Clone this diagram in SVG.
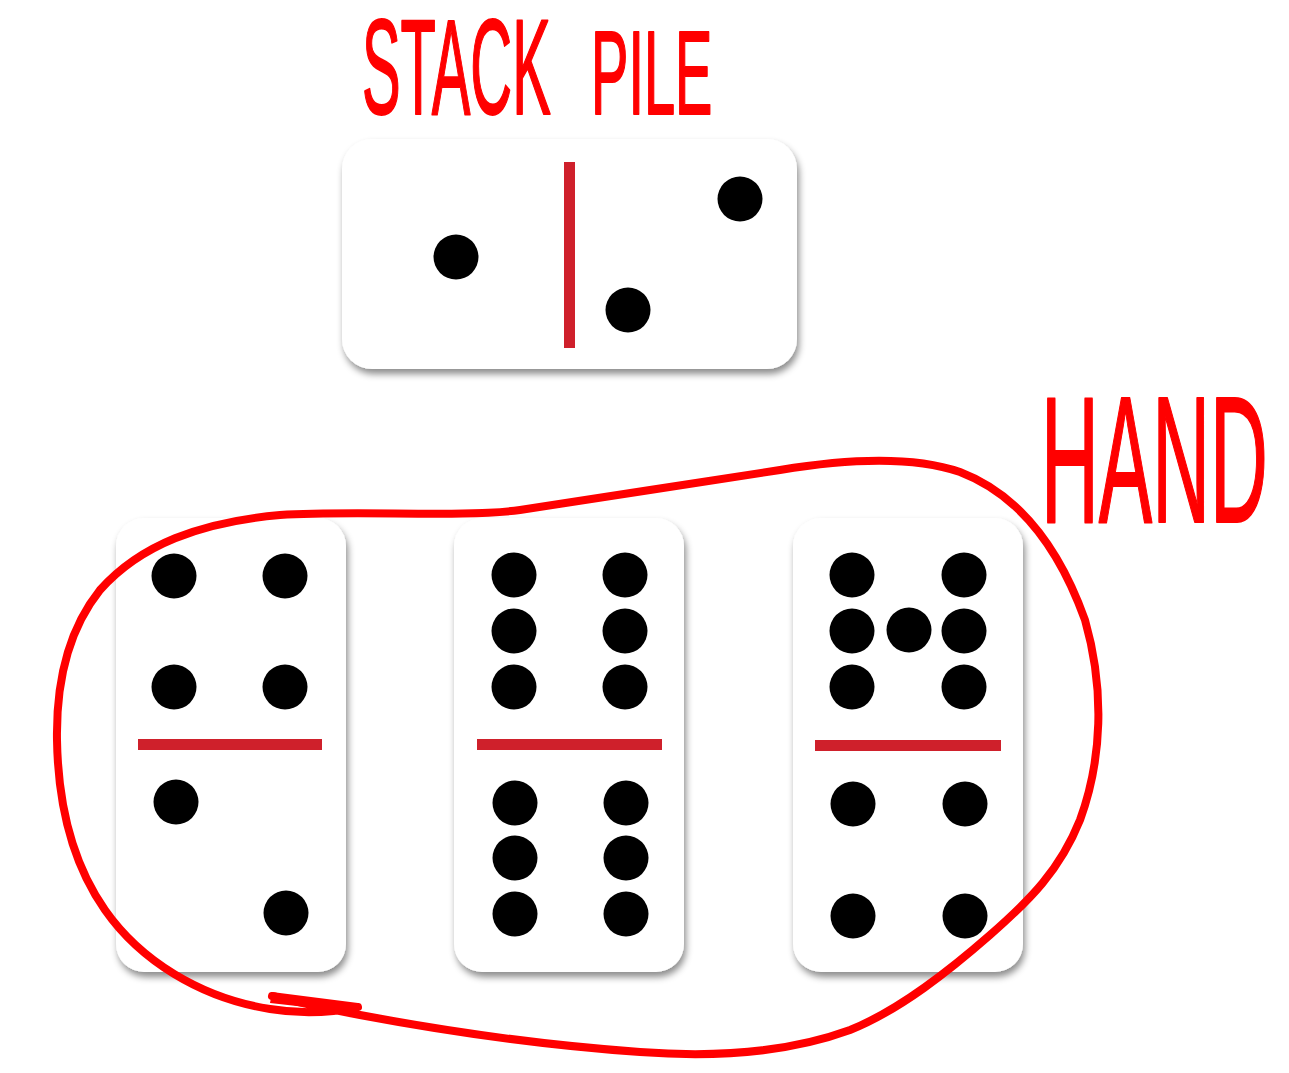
<svg xmlns="http://www.w3.org/2000/svg" width="1289" height="1073" viewBox="0 0 1289 1073">
<defs>
<filter id="sh" x="-10%" y="-10%" width="125%" height="125%">
<feDropShadow dx="2" dy="5" stdDeviation="3.5" flood-color="#000" flood-opacity="0.45"/>
</filter>
</defs>
<style>
.tile{fill:#fff;filter:url(#sh)}
.pip{fill:#000}
.bar{fill:#cf202b}
.lbl{fill:#ff0000;stroke:#ff0000;stroke-width:2;stroke-linejoin:round;font-family:"Liberation Sans",Arial,sans-serif}
.loop{fill:none;stroke:#ff0000;stroke-width:8;stroke-linecap:round;stroke-linejoin:round}
</style>
<rect width="1289" height="1073" fill="#fff"/>
<g id="label-stack">
<text class="lbl" font-size="135" transform="translate(362,114) scale(0.429,1)">STACK</text>
<text class="lbl" font-size="118" transform="translate(591,114) scale(0.475,1)">PILE</text>
</g>
<g id="stack-tile">
<rect class="tile" x="342" y="139" width="455" height="230" rx="30"/>
<rect class="bar" x="564" y="162" width="11" height="186"/>
<circle class="pip" cx="456" cy="257" r="22.5"/>
<circle class="pip" cx="628" cy="310" r="22.5"/>
<circle class="pip" cx="740" cy="199" r="22.5"/>
</g>
<g id="hand-tile-1">
<rect class="tile" x="116" y="518" width="230" height="454" rx="28"/>
<rect class="bar" x="138" y="739" width="184" height="11"/>
<circle class="pip" cx="174" cy="576" r="22.5"/>
<circle class="pip" cx="285" cy="576" r="22.5"/>
<circle class="pip" cx="174" cy="687" r="22.5"/>
<circle class="pip" cx="285" cy="687" r="22.5"/>
<circle class="pip" cx="176" cy="802" r="22.5"/>
<circle class="pip" cx="286" cy="913" r="22.5"/>
</g>
<g id="hand-tile-2">
<rect class="tile" x="454" y="518" width="230" height="454" rx="28"/>
<rect class="bar" x="477" y="739" width="185" height="11"/>
<circle class="pip" cx="514" cy="575" r="22.5"/>
<circle class="pip" cx="625" cy="575" r="22.5"/>
<circle class="pip" cx="514" cy="631" r="22.5"/>
<circle class="pip" cx="625" cy="631" r="22.5"/>
<circle class="pip" cx="514" cy="687" r="22.5"/>
<circle class="pip" cx="625" cy="687" r="22.5"/>
<circle class="pip" cx="515" cy="803" r="22.5"/>
<circle class="pip" cx="626" cy="803" r="22.5"/>
<circle class="pip" cx="515" cy="858" r="22.5"/>
<circle class="pip" cx="626" cy="858" r="22.5"/>
<circle class="pip" cx="515" cy="914" r="22.5"/>
<circle class="pip" cx="626" cy="914" r="22.5"/>
</g>
<g id="hand-tile-3">
<rect class="tile" x="793" y="518" width="230" height="454" rx="28"/>
<rect class="bar" x="815" y="740" width="186" height="11"/>
<circle class="pip" cx="852" cy="575" r="22.5"/>
<circle class="pip" cx="964" cy="575" r="22.5"/>
<circle class="pip" cx="852" cy="631" r="22.5"/>
<circle class="pip" cx="909" cy="630" r="22.5"/>
<circle class="pip" cx="964" cy="631" r="22.5"/>
<circle class="pip" cx="852" cy="687" r="22.5"/>
<circle class="pip" cx="964" cy="687" r="22.5"/>
<circle class="pip" cx="853" cy="804" r="22.5"/>
<circle class="pip" cx="965" cy="804" r="22.5"/>
<circle class="pip" cx="853" cy="916" r="22.5"/>
<circle class="pip" cx="965" cy="916" r="22.5"/>
</g>
<g id="connectors">
<path class="loop" d="M358,1007 C330,1013 300,1014 270,1009 C200,998 140,960 105,910 C70,860 58,800 57,740 C56,680 68,630 100,590 C140,545 200,522 280,515 C360,510 460,518 520,510 C600,497 700,483 780,470 C840,460 910,455 960,472 C1020,495 1060,550 1085,620 C1105,690 1102,760 1080,820 C1060,870 1030,900 990,935 C950,970 900,1010 850,1030 C790,1052 720,1058 640,1052 C540,1045 440,1030 360,1015 C320,1008 290,1000 272,996"/>
<path d="M272,992 L358,1003 L359,1013 L270,1003 Z" fill="#ff0000"/>
</g>
<g id="label-hand">
<text class="lbl" font-size="180" transform="translate(1041,522) scale(0.445,1)">HAND</text>
</g>
</svg>
